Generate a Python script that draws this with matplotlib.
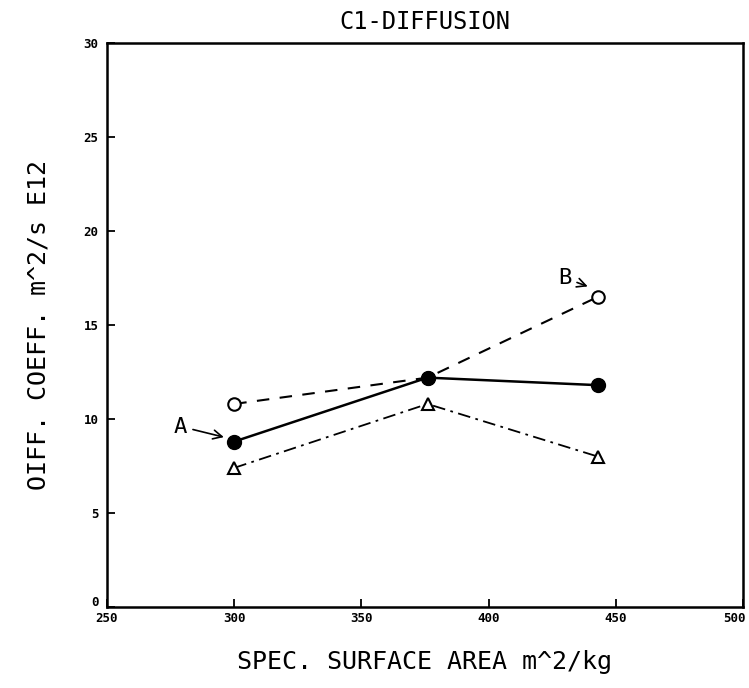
import matplotlib
matplotlib.use("Agg")
import matplotlib.pyplot as plt
from matplotlib.transforms import ScaledTranslation

# area especifica (m^2/kg) e coeficientes de difusao (m^2/s E12)
area = [300, 376, 443]
coef_a = [8.8, 12.2, 11.8]      # circulos cheios (A)
coef_b = [10.8, 12.2, 16.5]     # circulos abertos (B)
coef_tri = [7.4, 10.8, 8.0]     # triangulos

xticks = [250, 300, 350, 400, 450, 500]
yticks = [0, 5, 10, 15, 20, 25, 30]

plt.rcParams['font.family'] = ['DejaVu Sans Mono']

fig = plt.figure(figsize=(7.49, 6.88), dpi=100)
ax = fig.add_axes([107 / 749, 81 / 688, 636 / 749, 564 / 688])

ax.plot(area, coef_b, 'k--', lw=1.5, dashes=(6, 5), marker='o', ms=9,
        mfc='white', mec='k', mew=1.5)
ax.plot(area, coef_a, 'k-', lw=1.8, marker='o', ms=10, mfc='k', mec='k')
ax.plot(area, coef_tri, 'k-.', lw=1.3, dashes=(7, 3, 1.5, 3), marker='^', ms=8,
        mfc='white', mec='k', mew=1.5)

# rotulos A e B com setas
ax.annotate('A', xy=(area[0] - 3, coef_a[0] + 0.2), xytext=(279, 9.6),
            fontsize=16, ha='center', va='center',
            arrowprops=dict(arrowstyle='->', color='k', lw=1.2))
ax.annotate('B', xy=(area[2] - 3, coef_b[2] + 0.5), xytext=(430, 17.5),
            fontsize=16, ha='center', va='center',
            arrowprops=dict(arrowstyle='->', color='k', lw=1.2))

ax.set_xlim(250, 500)
ax.set_ylim(0, 30)
ax.set_xticks(xticks)
ax.set_yticks(yticks)
ax.tick_params(direction='in', length=6, width=1.3, labelsize=9)
ax.tick_params(axis='y', pad=6)
for lab in ax.get_xticklabels() + ax.get_yticklabels():
    lab.set_fontweight('bold')
for s in ax.spines.values():
    s.set_linewidth(1.8)

# afasta o "0" do "250" e traz o "500" para dentro da figura
ylabs = ax.get_yticklabels()
ylabs[0].set_transform(ylabs[0].get_transform() +
                       ScaledTranslation(0, 4 / 72, fig.dpi_scale_trans))
xlabs = ax.get_xticklabels()
xlabs[-1].set_transform(xlabs[-1].get_transform() +
                        ScaledTranslation(-6 / 72, 0, fig.dpi_scale_trans))

ax.set_title('C1-DIFFUSION', fontsize=17, pad=10)
ax.set_xlabel('SPEC. SURFACE AREA m^2/kg', fontsize=18, labelpad=18)
ax.set_ylabel('OIFF. COEFF. m^2/s E12', fontsize=18, labelpad=24)

fig.savefig('out.png', dpi=100)
